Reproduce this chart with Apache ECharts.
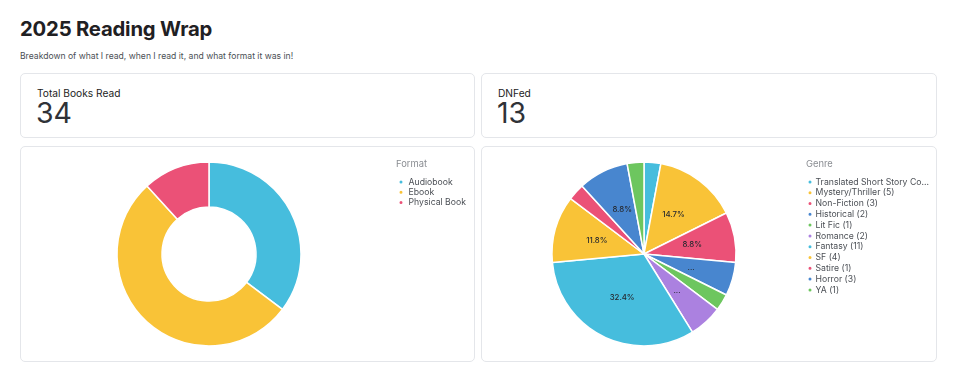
<!DOCTYPE html>
<html>
<head>
<meta charset="utf-8">
<script src="https://cdn.jsdelivr.net/npm/echarts@6/dist/echarts.min.js"></script>
<style>
  html, body { margin: 0; padding: 0; background: #fff; }
  body { width: 960px; height: 368px; position: relative; overflow: hidden; font-family: Inter, "Noto Sans", sans-serif; }
  .h1 { position: absolute; left: 20px; top: 15px; font-size: 20.3px; font-weight: 700; color: #1f2023; line-height: 28px; letter-spacing: -0.2px; }
  .sub { position: absolute; left: 20px; top: 50px; font-size: 8.6px; color: #4b4f55; line-height: 12px; }
  .card { position: absolute; border: 1px solid #e4e6ea; border-radius: 5px; box-sizing: border-box; background: #fff; }
  .kpi-label { position: absolute; left: 16px; top: 12px; font-size: 10.2px; color: #222; line-height: 14px; }
  .kpi-value { position: absolute; left: 15px; top: 22px; font-size: 28.5px; color: #2f3237; line-height: 34px; }
  #chart { position: absolute; left: 0; top: 0; width: 960px; height: 368px; }
</style>
</head>
<body>
<div class="h1">2025 Reading Wrap</div>
<div class="sub">Breakdown of what I read, when I read it, and what format it was in!</div>
<div class="card" style="left:20px;top:73px;width:455px;height:65px;">
  <div class="kpi-label">Total Books Read</div>
  <div class="kpi-value">34</div>
</div>
<div class="card" style="left:481px;top:73px;width:456px;height:65px;">
  <div class="kpi-label">DNFed</div>
  <div class="kpi-value">13</div>
</div>
<div class="card" style="left:20px;top:146px;width:455px;height:216px;"></div>
<div class="card" style="left:481px;top:146px;width:456px;height:216px;"></div>
<div id="chart"></div>
<script>
const palette = ['#46bddd', '#f9c337', '#eb5177', '#4886cf', '#6dc65f', '#ab81e0'];

const formatNames = ['Audiobook', 'Ebook', 'Physical Book'];
const formatCounts = [12, 18, 4];

const genreNames = ['Translated Short Story Collection', 'Mystery/Thriller', 'Non-Fiction', 'Historical', 'Lit Fic', 'Romance', 'Fantasy', 'SF', 'Satire', 'Horror', 'YA'];
const genreCounts = [1, 5, 3, 2, 1, 2, 11, 4, 1, 3, 1];

const chart = echarts.init(document.getElementById('chart'), null, { renderer: 'canvas' });

const formatData = formatNames.map((n, i) => ({ name: n, value: formatCounts[i], itemStyle: { color: palette[i % palette.length] } }));
const genreData = genreNames.map((n, i) => ({ name: n + ' (' + genreCounts[i] + ')', value: genreCounts[i], itemStyle: { color: palette[i % palette.length] } }));

const legendText = { fontSize: 8.7, color: '#4b4f55', fontFamily: 'Inter' };
const legendTitle = { fontSize: 9.4, fontWeight: 'normal', color: '#8a8d92', fontFamily: 'Inter' };

chart.setOption({
  animation: false,
  title: [
    { text: 'Format', left: 396, top: 160, padding: 0, textStyle: legendTitle },
    { text: 'Genre', left: 806, top: 160, padding: 0, textStyle: legendTitle }
  ],
  legend: [
    {
      orient: 'vertical', left: 397.5, top: 177, icon: 'circle', itemWidth: 5, itemHeight: 5, itemGap: 0,
      data: formatNames, padding: 0,
      textStyle: Object.assign({}, legendText, { lineHeight: 10.2 })
    },
    {
      orient: 'vertical', left: 806.5, top: 176.5, icon: 'circle', itemWidth: 5, itemHeight: 5, itemGap: 0,
      data: genreData.map(d => d.name), padding: 0,
      textStyle: Object.assign({}, legendText, { lineHeight: 10.8, width: 115, overflow: 'truncate', ellipsis: '...', padding: [0, 0, 0, -2] })
    }
  ],
  series: [
    {
      type: 'pie', center: [209, 254], radius: [47, 92], startAngle: 90,
      data: formatData, label: { show: false }, labelLine: { show: false },
      itemStyle: { borderColor: '#fff', borderWidth: 1.5 }
    },
    {
      type: 'pie', center: [644, 254], radius: [0, 92], startAngle: 90,
      data: genreData, labelLine: { show: false },
      itemStyle: { borderColor: '#fff', borderWidth: 1.5 },
      label: {
        show: true, position: 'inside', fontSize: 7.8, fontWeight: 500, color: '#26292f', fontFamily: 'Inter',
        formatter: p => p.percent >= 8 ? p.percent.toFixed(1) + '%' : (p.percent >= 5 ? '...' : '')
      }
    }
  ]
});
</script>
</body>
</html>
